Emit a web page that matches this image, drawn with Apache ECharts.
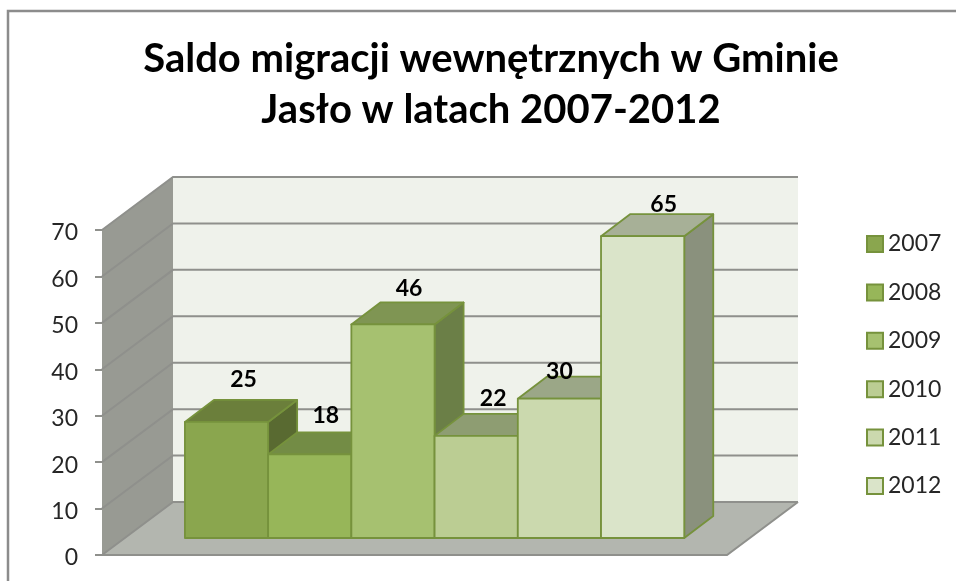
<!DOCTYPE html>
<html>
<head>
<meta charset="utf-8">
<title>Saldo migracji</title>
<style>
html, body { margin: 0; padding: 0; background: #fff; }
#main { width: 956px; height: 581px; }
</style>
<script src="https://cdn.jsdelivr.net/npm/echarts@6/dist/echarts.min.js"></script>
</head>
<body>
<div id="main"></div>
<script>
// values
const years = ['2007', '2008', '2009', '2010', '2011', '2012'];
const saldo = [25, 18, 46, 22, 30, 65];
const yTicks = [0, 10, 20, 30, 40, 50, 60, 70];

// colours per bar: front, top, side
const frontColors = ['#8aa64e', '#97b659', '#a6c170', '#bbcd93', '#cbd9ae', '#dae4c9'];
const topColors = ['#6b7f3b', '#738c45', '#7f9553', '#8e9d72', '#9ba787', '#a7b097'];
const sideColors = ['#596a31', '#62773a', '#6b7f47', '#79866a', '#848f75', '#8a917d'];
// hand placed label shift from the top of the bar front
const labelShift = [[17, -42], [16, -39], [16, -36], [17, -37], [0, -27], [21, -32]];

// fake 3d: pixels the back wall and the bars are pushed up and right
const WALL = [71, -53];
const BAR_FRONT = [23, -17];
const BAR_DEPTH = [29, -22];
const EDGE = '#76923c';

const font = 'Lato, "Noto Sans", sans-serif';
const xMin = -1.22, xMax = 6.29;

function shift(p, d) {
    return [p[0] + d[0], p[1] + d[1]];
}

function renderWalls(params, api) {
    const a = api.coord([xMin, 0]);
    const b = api.coord([xMax, 0]);
    const t = api.coord([xMin, 70]);
    const u = api.coord([xMax, 70]);
    const poly = (points, fill) => ({ type: 'polygon', shape: { points: points }, style: { fill: fill } });
    return {
        type: 'group',
        children: [
            poly([shift(a, WALL), shift(b, WALL), shift(u, WALL), shift(t, WALL)], '#eff2eb'),
            poly([a, t, shift(t, WALL), shift(a, WALL)], '#989a93'),
            poly([a, b, shift(b, WALL), shift(a, WALL)], '#b3b6af'),
            {
                type: 'polyline',
                shape: { points: [a, b, shift(b, WALL)] },
                style: { fill: null, stroke: '#8f908c', lineWidth: 2 }
            }
        ]
    };
}

function renderGridline(params, api) {
    const v = api.value(0);
    const p = api.coord([xMin, v]);
    const q = api.coord([xMax, v]);
    return {
        type: 'polyline',
        shape: { points: [p, shift(p, WALL), shift(q, WALL)] },
        style: { fill: null, stroke: '#8f908c', lineWidth: 2 }
    };
}

function renderBar(i) {
    return function (params, api) {
        const lo = api.coord([i - 0.5, 0]);
        const hi = api.coord([i + 0.5, api.value(0)]);
        const bl = shift(lo, BAR_FRONT);
        const tr = shift(hi, BAR_FRONT);
        const br = [tr[0], bl[1]];
        const tl = [bl[0], tr[1]];
        const face = (points, fill) => ({
            type: 'polygon',
            shape: { points: points },
            style: { fill: fill, stroke: EDGE, lineWidth: 1.8, lineJoin: 'round' }
        });
        return {
            type: 'group',
            children: [
                face([br, tr, shift(tr, BAR_DEPTH), shift(br, BAR_DEPTH)], sideColors[i]),
                face([tl, tr, shift(tr, BAR_DEPTH), shift(tl, BAR_DEPTH)], topColors[i]),
                face([bl, br, tr, tl], frontColors[i]),
                {
                    type: 'text',
                    z2: 50,
                    x: (tl[0] + tr[0]) / 2 + labelShift[i][0],
                    y: tr[1] + labelShift[i][1],
                    style: {
                        text: String(saldo[i]),
                        font: 'bold 23px ' + font,
                        fill: '#000',
                        align: 'center',
                        verticalAlign: 'middle'
                    }
                }
            ]
        };
    };
}

var chartDom = document.getElementById('main');
var myChart = echarts.init(chartDom);

var series = [
    { type: 'custom', name: 'walls', silent: true, data: [0], encode: { y: 0 }, renderItem: renderWalls },
    { type: 'custom', name: 'lines', silent: true, data: yTicks, encode: { y: 0 }, renderItem: renderGridline }
];
years.forEach(function (year, i) {
    series.push({
        type: 'custom',
        name: year,
        data: [saldo[i]],
        encode: { y: 0 },
        itemStyle: { color: frontColors[i], borderColor: EDGE, borderWidth: 2 },
        renderItem: renderBar(i)
    });
});

var option = {
    animation: false,
    backgroundColor: '#fff',
    title: {
        text: 'Saldo migracji wewnętrznych w Gminie\nJasło w latach 2007-2012',
        left: 486,
        top: 29,
        textAlign: 'center',
        textStyle: { fontFamily: font, fontSize: 40, fontWeight: 'bold', color: '#000', lineHeight: 51 }
    },
    grid: { left: 102, top: 230, width: 625, height: 325 },
    xAxis: { type: 'value', min: xMin, max: xMax, show: false },
    yAxis: {
        type: 'value',
        min: 0,
        max: 70,
        interval: 10,
        splitLine: { show: false },
        axisLine: { show: true, onZero: false, lineStyle: { color: '#8f908c', width: 1 } },
        axisTick: { show: true, length: 7, lineStyle: { color: '#8f908c', width: 2 } },
        axisLabel: {
            margin: 24,
            formatter: '{n|{value}}',
            rich: { n: { padding: [6, 0, 0, 0], fontFamily: font, fontSize: 23, color: '#262626' } }
        }
    },
    legend: {
        data: years,
        orient: 'vertical',
        left: 866,
        top: 232,
        padding: 0,
        itemWidth: 16,
        itemHeight: 16,
        itemGap: 24.4,
        icon: 'rect',
        textStyle: { fontFamily: font, fontSize: 23, color: '#262626', lineHeight: 24 }
    },
    graphic: [{
        type: 'polyline',
        shape: { points: [[8, 581], [8, 11], [956, 11]] },
        style: { fill: null, stroke: '#8c8c8c', lineWidth: 2.5 }
    }],
    series: series
};
myChart.setOption(option);
</script>
</body>
</html>
